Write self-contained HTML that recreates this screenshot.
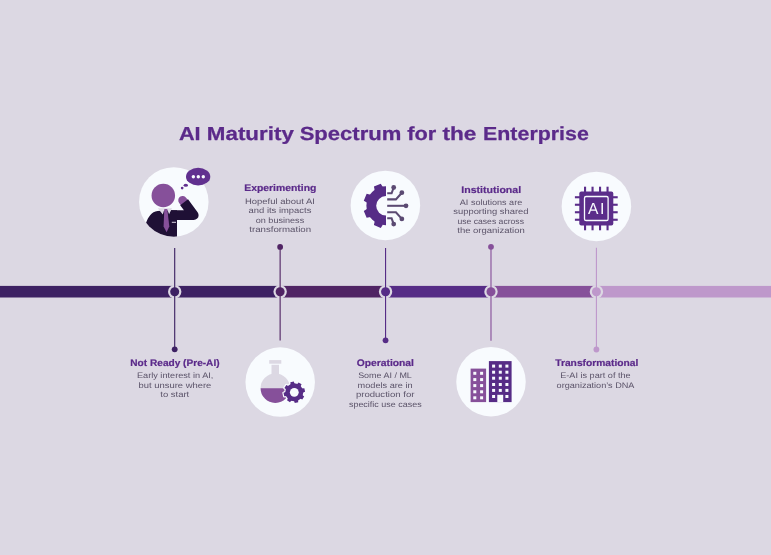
<!DOCTYPE html>
<html lang="en"><head><meta charset="utf-8"><title>AI Maturity Spectrum for the Enterprise</title>
<style>html,body{margin:0;padding:0;background:#DCD8E3;}body{width:771px;height:555px;overflow:hidden;}svg{display:block;will-change:transform;}text{font-family:"Liberation Sans",sans-serif;text-rendering:geometricPrecision;}.t{font-weight:700;fill:#5B2A8A;stroke:#5B2A8A;stroke-width:0.25px;stroke-linejoin:round;}.h{font-weight:700;fill:#5B2A8A;stroke:#5B2A8A;stroke-width:0.2px;stroke-linejoin:round;}.b{fill:#5A5268;}</style></head><body>
<svg width="771" height="555" viewBox="0 0 771 555">
<rect width="771" height="555" fill="#DCD8E3"/>
<text class="t" font-size="18.9" y="140.2"><tspan x="178.95" textLength="21.72" lengthAdjust="spacingAndGlyphs">AI</tspan> <tspan x="206.83" textLength="87.02" lengthAdjust="spacingAndGlyphs">Maturity</tspan> <tspan x="299.65" textLength="101.75" lengthAdjust="spacingAndGlyphs">Spectrum</tspan> <tspan x="407.24" textLength="29.04" lengthAdjust="spacingAndGlyphs">for</tspan> <tspan x="442.41" textLength="33.94" lengthAdjust="spacingAndGlyphs">the</tspan> <tspan x="483.06" textLength="105.77" lengthAdjust="spacingAndGlyphs">Enterprise</tspan></text>
<text class="h" font-size="9.5" x="244.21" y="190.8" textLength="72.20" lengthAdjust="spacingAndGlyphs">Experimenting</text>
<text class="b" font-size="8.0" x="245.04" y="204" textLength="69.84" lengthAdjust="spacingAndGlyphs">Hopeful about AI</text>
<text class="b" font-size="8.0" x="248.57" y="213" textLength="62.83" lengthAdjust="spacingAndGlyphs">and its impacts</text>
<text class="b" font-size="8.0" x="255.76" y="223" textLength="48.43" lengthAdjust="spacingAndGlyphs">on business</text>
<text class="b" font-size="8.0" x="249.30" y="232" textLength="61.77" lengthAdjust="spacingAndGlyphs">transformation</text>
<text class="h" font-size="9.5" x="461.31" y="192.8" textLength="59.83" lengthAdjust="spacingAndGlyphs">Institutional</text>
<text class="b" font-size="8.0" x="459.83" y="204.6" textLength="62.37" lengthAdjust="spacingAndGlyphs">AI solutions are</text>
<text class="b" font-size="8.0" x="453.26" y="214.1" textLength="75.30" lengthAdjust="spacingAndGlyphs">supporting shared</text>
<text class="b" font-size="8.0" x="457.41" y="223.6" textLength="66.59" lengthAdjust="spacingAndGlyphs">use cases across</text>
<text class="b" font-size="8.0" x="457.27" y="233.1" textLength="67.53" lengthAdjust="spacingAndGlyphs">the organization</text>
<text class="h" font-size="9.5" x="130.33" y="366" textLength="89.27" lengthAdjust="spacingAndGlyphs">Not Ready (Pre-AI)</text>
<text class="b" font-size="8.0" x="136.95" y="378.2" textLength="76.42" lengthAdjust="spacingAndGlyphs">Early interest in AI,</text>
<text class="b" font-size="8.0" x="138.52" y="387.7" textLength="72.84" lengthAdjust="spacingAndGlyphs">but unsure where</text>
<text class="b" font-size="8.0" x="160.30" y="397.3" textLength="28.90" lengthAdjust="spacingAndGlyphs">to start</text>
<text class="h" font-size="9.5" x="356.65" y="366.1" textLength="57.33" lengthAdjust="spacingAndGlyphs">Operational</text>
<text class="b" font-size="8.0" x="358.17" y="378.2" textLength="53.67" lengthAdjust="spacingAndGlyphs">Some AI / ML</text>
<text class="b" font-size="8.0" x="357.63" y="387.7" textLength="55.01" lengthAdjust="spacingAndGlyphs">models are in</text>
<text class="b" font-size="8.0" x="355.93" y="397.3" textLength="58.47" lengthAdjust="spacingAndGlyphs">production for</text>
<text class="b" font-size="8.0" x="348.91" y="406.8" textLength="72.77" lengthAdjust="spacingAndGlyphs">specific use cases</text>
<text class="h" font-size="9.5" x="555.26" y="366" textLength="83.10" lengthAdjust="spacingAndGlyphs">Transformational</text>
<text class="b" font-size="8.0" x="560.20" y="378.1" textLength="70.46" lengthAdjust="spacingAndGlyphs">E-AI is part of the</text>
<text class="b" font-size="8.0" x="556.59" y="387.6" textLength="77.87" lengthAdjust="spacingAndGlyphs">organization’s DNA</text>
<rect x="0.00" y="285.9" width="175.20" height="11.60" fill="#3D2163"/>
<rect x="174.70" y="285.9" width="105.93" height="11.60" fill="#3D2163"/>
<rect x="280.13" y="285.9" width="105.93" height="11.60" fill="#502464"/>
<rect x="385.56" y="285.9" width="105.93" height="11.60" fill="#562C86"/>
<rect x="490.99" y="285.9" width="105.93" height="11.60" fill="#86509A"/>
<rect x="596.42" y="285.9" width="175.08" height="11.60" fill="#BE98CB"/>
<circle cx="174.70" cy="291.70" r="6.7" fill="#DCD8E3"/>
<circle cx="174.70" cy="291.70" r="4.5" fill="#3D2163"/>
<line x1="174.70" y1="247.9" x2="174.70" y2="349.3" stroke="#3D2163" stroke-width="1.12"/>
<circle cx="174.70" cy="349.3" r="2.9" fill="#3D2163"/>
<circle cx="280.13" cy="291.70" r="6.7" fill="#DCD8E3"/>
<circle cx="280.13" cy="291.70" r="4.5" fill="#502464"/>
<line x1="280.13" y1="246.9" x2="280.13" y2="340.6" stroke="#502464" stroke-width="1.12"/>
<circle cx="280.13" cy="246.9" r="2.9" fill="#502464"/>
<circle cx="385.56" cy="291.70" r="6.7" fill="#DCD8E3"/>
<circle cx="385.56" cy="291.70" r="4.5" fill="#562C86"/>
<line x1="385.56" y1="247.9" x2="385.56" y2="340.3" stroke="#562C86" stroke-width="1.12"/>
<circle cx="385.56" cy="340.3" r="2.9" fill="#562C86"/>
<circle cx="490.99" cy="291.70" r="6.7" fill="#DCD8E3"/>
<circle cx="490.99" cy="291.70" r="4.5" fill="#86509A"/>
<line x1="490.99" y1="246.8" x2="490.99" y2="340.8" stroke="#86509A" stroke-width="1.12"/>
<circle cx="490.99" cy="246.8" r="2.9" fill="#86509A"/>
<circle cx="596.42" cy="291.70" r="6.7" fill="#DCD8E3"/>
<circle cx="596.42" cy="291.70" r="4.5" fill="#BE98CB"/>
<line x1="596.42" y1="247.8" x2="596.42" y2="349.5" stroke="#BE98CB" stroke-width="1.12"/>
<circle cx="596.42" cy="349.5" r="2.9" fill="#BE98CB"/>
<circle cx="173.8" cy="201.9" r="34.75" fill="#F8FBFE"/>
<circle cx="280.2" cy="382.1" r="34.75" fill="#F8FBFE"/>
<circle cx="385.4" cy="205.4" r="34.75" fill="#F8FBFE"/>
<circle cx="491.0" cy="381.7" r="34.75" fill="#F8FBFE"/>
<circle cx="596.4" cy="206.4" r="34.75" fill="#F8FBFE"/>
<defs><clipPath id="c1"><circle cx="173.8" cy="201.9" r="34.75"/></clipPath></defs>
<g clip-path="url(#c1)">
<path fill="#1F1035" d="M143,240 L146.0,223 C148.4,216.6 151.4,211.6 157.6,210.9 L164,210.6 L171,210.2 L177,210.2 L177,240 Z"/>
<path d="M184.3,202.5 L182.6,200.3" stroke="#86509A" stroke-width="8.7" stroke-linecap="round" fill="none"/>
<path d="M170,215.15 L193.7,215.15 L184.1,202.3" stroke="#1F1035" stroke-width="9.8" stroke-linejoin="round" fill="none"/>
<path fill="#DFDBE6" d="M157.8,208.2 L172.0,208.2 L169.1,214.3 L167.3,209.6 L164.3,209.6 L162.8,214.5 Z"/>
<path fill="#86509A" d="M164.3,208.9 L167.3,208.9 L169.3,226.6 L166.6,232.3 L163.6,226.6 Z"/>
<rect x="171.8" y="221.8" width="4.2" height="1" fill="#D8D2E0"/>
</g>
<circle cx="163.3" cy="195.45" r="11.75" fill="#86509A"/>
<ellipse cx="198.15" cy="176.65" rx="12.15" ry="8.8" fill="#61308F"/>
<circle cx="193.35" cy="176.7" r="1.7" fill="#F8FBFE"/>
<circle cx="198.3" cy="176.7" r="1.7" fill="#F8FBFE"/>
<circle cx="203.3" cy="176.7" r="1.7" fill="#F8FBFE"/>
<ellipse cx="185.8" cy="185.2" rx="2.2" ry="1.55" fill="#61308F"/>
<circle cx="182.15" cy="188.1" r="1.35" fill="#61308F"/>
<defs><clipPath id="c3"><rect x="350" y="170" width="35.90" height="72"/></clipPath></defs>
<g clip-path="url(#c3)"><circle cx="385.9" cy="205.8" r="19.5" fill="#562C86" /><path d="M397.01,190.51 L397.91,186.54 L391.03,183.69 L388.86,187.13Z M382.94,187.13 L380.77,183.69 L373.89,186.54 L374.79,190.51Z M370.61,194.69 L366.64,193.79 L363.79,200.67 L367.23,202.84Z M367.23,208.76 L363.79,210.93 L366.64,217.81 L370.61,216.91Z M374.79,221.09 L373.89,225.06 L380.77,227.91 L382.94,224.47Z M388.86,224.47 L391.03,227.91 L397.91,225.06 L397.01,221.09Z M401.19,216.91 L405.16,217.81 L408.01,210.93 L404.57,208.76Z M404.57,202.84 L408.01,200.67 L405.16,193.79 L401.19,194.69Z " fill="#562C86" /><circle cx="385.9" cy="205.8" r="9.7" fill="#F8FBFE"/></g>
<g fill="none" stroke="#5B4A72" stroke-width="2.05">
<path d="M387.2,193.3 H391.6 L393.7,187.5"/>
<path d="M387.2,199.35 H395.9 L401.85,192.7"/>
<path d="M387.2,205.8 H406"/>
<path d="M387.2,212.25 H395.9 L401.85,218.9"/>
<path d="M387.2,218.3 H391.6 L393.7,224.1"/>
</g>
<circle cx="393.7" cy="187.5" r="2.4" fill="#5B4A72"/>
<circle cx="401.85" cy="192.7" r="2.4" fill="#5B4A72"/>
<circle cx="406" cy="205.8" r="2.4" fill="#5B4A72"/>
<circle cx="401.85" cy="218.9" r="2.4" fill="#5B4A72"/>
<circle cx="393.7" cy="224.1" r="2.4" fill="#5B4A72"/>
<g fill="#5B2D8A">
<rect x="579.30" y="191.50" width="34" height="34" rx="2"/>
<rect x="584.00" y="186.70" width="2.1" height="43.6"/>
<rect x="574.90" y="196.20" width="42.8" height="2.1"/>
<rect x="591.50" y="186.70" width="2.1" height="43.6"/>
<rect x="574.90" y="203.70" width="42.8" height="2.1"/>
<rect x="599.00" y="186.70" width="2.1" height="43.6"/>
<rect x="574.90" y="211.20" width="42.8" height="2.1"/>
<rect x="606.50" y="186.70" width="2.1" height="43.6"/>
<rect x="574.90" y="218.70" width="42.8" height="2.1"/>
</g>
<rect x="584.50" y="196.50" width="23.6" height="24" rx="1.6" fill="none" stroke="#F8FBFE" stroke-width="1.3"/>
<text y="214" font-size="16" fill="#F8FBFE"><tspan x="588.1" textLength="10.4" lengthAdjust="spacingAndGlyphs">A</tspan><tspan x="600.1">I</tspan></text>
<rect x="269.2" y="360.1" width="12.1" height="3.6" fill="#DCD8E3"/>
<rect x="271.5" y="364.8" width="7.5" height="11.5" fill="#DCD8E3"/>
<circle cx="275.3" cy="388.2" r="14.7" fill="#DCD8E3"/>
<path fill="#86509A" d="M260.6,388.2 A14.7,14.7 0 0,0 290.0,388.2Z"/>
<circle cx="294.3" cy="392.3" r="9.0" fill="#F8FBFE" stroke="#F8FBFE" stroke-width="2.4" stroke-linejoin="round"/><path d="M302.70,392.59 L305.09,391.82 L304.35,388.35 L301.85,388.62Z M300.44,386.57 L301.59,384.33 L298.62,382.40 L297.04,384.36Z M294.59,383.90 L293.82,381.51 L290.35,382.25 L290.62,384.75Z M288.57,386.16 L286.33,385.01 L284.40,387.98 L286.36,389.56Z M285.90,392.01 L283.51,392.78 L284.25,396.25 L286.75,395.98Z M288.16,398.03 L287.01,400.27 L289.98,402.20 L291.56,400.24Z M294.01,400.70 L294.78,403.09 L298.25,402.35 L297.98,399.85Z M300.03,398.44 L302.27,399.59 L304.20,396.62 L302.24,395.04Z " fill="#F8FBFE" stroke="#F8FBFE" stroke-width="2.4" stroke-linejoin="round"/>
<circle cx="294.3" cy="392.3" r="9.0" fill="#562C86" /><path d="M302.70,392.59 L305.09,391.82 L304.35,388.35 L301.85,388.62Z M300.44,386.57 L301.59,384.33 L298.62,382.40 L297.04,384.36Z M294.59,383.90 L293.82,381.51 L290.35,382.25 L290.62,384.75Z M288.57,386.16 L286.33,385.01 L284.40,387.98 L286.36,389.56Z M285.90,392.01 L283.51,392.78 L284.25,396.25 L286.75,395.98Z M288.16,398.03 L287.01,400.27 L289.98,402.20 L291.56,400.24Z M294.01,400.70 L294.78,403.09 L298.25,402.35 L297.98,399.85Z M300.03,398.44 L302.27,399.59 L304.20,396.62 L302.24,395.04Z " fill="#562C86" />
<circle cx="294.3" cy="392.3" r="4.4" fill="#F8FBFE"/>
<rect x="470.6" y="368.6" width="15.5" height="33.5" fill="#86509A"/>
<rect x="473.30" y="371.80" width="3" height="3" fill="#F8FBFE"/>
<rect x="473.30" y="378.10" width="3" height="3" fill="#F8FBFE"/>
<rect x="473.30" y="384.10" width="3" height="3" fill="#F8FBFE"/>
<rect x="473.30" y="390.30" width="3" height="3" fill="#F8FBFE"/>
<rect x="473.30" y="396.30" width="3" height="3" fill="#F8FBFE"/>
<rect x="480.10" y="371.80" width="3" height="3" fill="#F8FBFE"/>
<rect x="480.10" y="378.10" width="3" height="3" fill="#F8FBFE"/>
<rect x="480.10" y="384.10" width="3" height="3" fill="#F8FBFE"/>
<rect x="480.10" y="390.30" width="3" height="3" fill="#F8FBFE"/>
<rect x="480.10" y="396.30" width="3" height="3" fill="#F8FBFE"/>
<rect x="488.9" y="361.1" width="22.7" height="41" fill="#562C86"/>
<rect x="492.10" y="364.60" width="3" height="3" fill="#F8FBFE"/>
<rect x="492.10" y="370.70" width="3" height="3" fill="#F8FBFE"/>
<rect x="492.10" y="376.70" width="3" height="3" fill="#F8FBFE"/>
<rect x="492.10" y="383.00" width="3" height="3" fill="#F8FBFE"/>
<rect x="492.10" y="388.90" width="3" height="3" fill="#F8FBFE"/>
<rect x="492.10" y="395.00" width="3" height="3" fill="#F8FBFE"/>
<rect x="498.80" y="364.60" width="3" height="3" fill="#F8FBFE"/>
<rect x="498.80" y="370.70" width="3" height="3" fill="#F8FBFE"/>
<rect x="498.80" y="376.70" width="3" height="3" fill="#F8FBFE"/>
<rect x="498.80" y="383.00" width="3" height="3" fill="#F8FBFE"/>
<rect x="498.80" y="388.90" width="3" height="3" fill="#F8FBFE"/>
<rect x="505.40" y="364.60" width="3" height="3" fill="#F8FBFE"/>
<rect x="505.40" y="370.70" width="3" height="3" fill="#F8FBFE"/>
<rect x="505.40" y="376.70" width="3" height="3" fill="#F8FBFE"/>
<rect x="505.40" y="383.00" width="3" height="3" fill="#F8FBFE"/>
<rect x="505.40" y="388.90" width="3" height="3" fill="#F8FBFE"/>
<rect x="505.40" y="395.00" width="3" height="3" fill="#F8FBFE"/>
<rect x="497.3" y="394.8" width="5.9" height="7.5" fill="#F8FBFE"/>
</svg></body></html>
